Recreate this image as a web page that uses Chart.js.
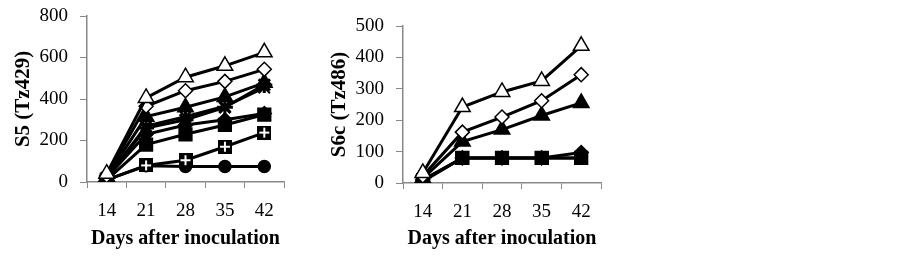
<!DOCTYPE html>
<html>
<head>
<meta charset="utf-8">
<script src="https://cdn.jsdelivr.net/npm/chart.js@4.4.1/dist/chart.umd.min.js"></script>
<style>
  body { margin: 0; background: #fff; width: 903px; height: 260px; overflow: hidden; }
  .box { position: absolute; top: 0; height: 260px; }
  #b1 { left: 0; width: 300px; }
  #b2 { left: 316px; width: 300px; }
</style>
</head>
<body>
<div class="box" id="b1"><canvas id="c1"></canvas></div>
<div class="box" id="b2"><canvas id="c2"></canvas></div>
<script>
const days = ['14', '21', '28', '35', '42'];

// S5 (Tz429)
const s5OpenTri   = [40, 405, 505, 560, 625];
const s5OpenDia   = [30, 365, 440, 485, 543];
const s5Tri       = [25, 315, 360, 410, 478];
const s5Star      = [20, 260, 300, 360, 468];
const s5Cross     = [20, 270, 315, 365, 455];
const s5Dia       = [20, 230, 275, 300, 330];
const s5Square    = [10, 180, 230, 275, 325];
const s5PlusSq    = [10, 80, 105, 170, 238];
const s5Circle    = [10, 78, 75, 75, 75];

// S6c (Tz486)
const s6OpenTri   = [32, 242, 290, 325, 437];
const s6OpenDia   = [22, 162, 210, 262, 345];
const s6Tri       = [15, 132, 170, 215, 255];
const s6Dia       = [10, 80, 80, 80, 97];
const s6Square    = [5, 80, 80, 80, 80];
const s6PlusSq    = [8, 80, 80, 80, 80];

function plusSquare() {
  const c = document.createElement('canvas');
  c.width = 14; c.height = 14;
  const g = c.getContext('2d');
  g.fillStyle = '#000';
  g.fillRect(0, 0, 14, 14);
  g.strokeStyle = '#fff';
  g.lineWidth = 2;
  g.beginPath();
  g.moveTo(7, 2); g.lineTo(7, 12);
  g.moveTo(2, 7); g.lineTo(12, 7);
  g.stroke();
  return c;
}
const psImg = plusSquare();

const styles = {
  openTri: { pointStyle: 'triangle', pointRadius: 9, pointBackgroundColor: '#fff' },
  openDia: { pointStyle: 'rectRot', pointRadius: 7, pointBackgroundColor: '#fff' },
  tri:     { pointStyle: 'triangle', pointRadius: 9, pointBackgroundColor: '#000' },
  star:    { pointStyle: 'star', pointRadius: 8, pointBackgroundColor: '#000', pointBorderWidth: 3 },
  cross:   { pointStyle: 'crossRot', pointRadius: 8, pointBackgroundColor: '#000', pointBorderWidth: 2 },
  dia:     { pointStyle: 'rectRot', pointRadius: 7, pointBackgroundColor: '#000' },
  square:  { pointStyle: 'rect', pointRadius: 9, pointBackgroundColor: '#000' },
  plusSq:  { pointStyle: psImg, pointRadius: 7 },
  circle:  { pointStyle: 'circle', pointRadius: 6, pointBackgroundColor: '#000' }
};

function ds(data, st) {
  return Object.assign({
    data: data,
    borderColor: '#000',
    borderWidth: 3,
    pointBorderColor: '#000',
    pointBorderWidth: 1.5,
    tension: 0
  }, styles[st]);
}

function makeChart(id, datasets, yMax, yStep, yTitle, pad, xHeight) {
  new Chart(document.getElementById(id), {
    type: 'line',
    data: { labels: days, datasets: datasets },
    options: {
      responsive: true,
      maintainAspectRatio: false,
      animation: false,
      layout: { padding: pad },
      plugins: { legend: { display: false }, tooltip: { enabled: false } },
      scales: {
        x: {
          offset: true,
          grid: { offset: true, drawOnChartArea: false, color: '#888', tickLength: 6 },
          border: { color: '#888', width: 1.5 },
          ticks: { color: '#000', font: { family: 'Liberation Serif', size: 19 }, padding: 12 },
          title: { display: true, text: 'Days after inoculation', color: '#000',
                   font: { family: 'Liberation Serif', size: 20, weight: 'bold' }, padding: { top: 0, bottom: 9 } },
          afterFit: s => { s.height = xHeight; s.paddingLeft = 0; s.paddingRight = 0; }
        },
        y: {
          min: 0, max: yMax,
          grid: { drawOnChartArea: false, color: '#888', tickLength: 7 },
          border: { color: '#888', width: 1.5 },
          ticks: { stepSize: yStep, color: '#000', font: { family: 'Liberation Serif', size: 19 }, padding: 12 },
          title: { display: true, text: yTitle, color: '#000',
                   font: { family: 'Liberation Serif', size: 21, weight: 'bold' }, padding: { top: 0, bottom: 0 } },
          afterFit: s => { s.width = 76; s.paddingTop = 0; s.paddingBottom = 0; }
        }
      }
    }
  });
}

makeChart('c1', [
  ds(s5OpenTri, 'openTri'),
  ds(s5OpenDia, 'openDia'),
  ds(s5Tri, 'tri'),
  ds(s5Star, 'star'),
  ds(s5Cross, 'cross'),
  ds(s5Dia, 'dia'),
  ds(s5Square, 'square'),
  ds(s5PlusSq, 'plusSq'),
  ds(s5Circle, 'circle')
], 800, 200, 'S5 (Tz429)', { left: 11, right: 16, top: 16, bottom: 0 }, 78);

makeChart('c2', [
  ds(s6OpenTri, 'openTri'),
  ds(s6OpenDia, 'openDia'),
  ds(s6Tri, 'tri'),
  ds(s6Dia, 'dia'),
  ds(s6Square, 'square'),
  ds(s6PlusSq, 'plusSq')
], 500, 100, 'S6c (Tz486)', { left: 11, right: 15, top: 26, bottom: 0 }, 77);
</script>
</body>
</html>
